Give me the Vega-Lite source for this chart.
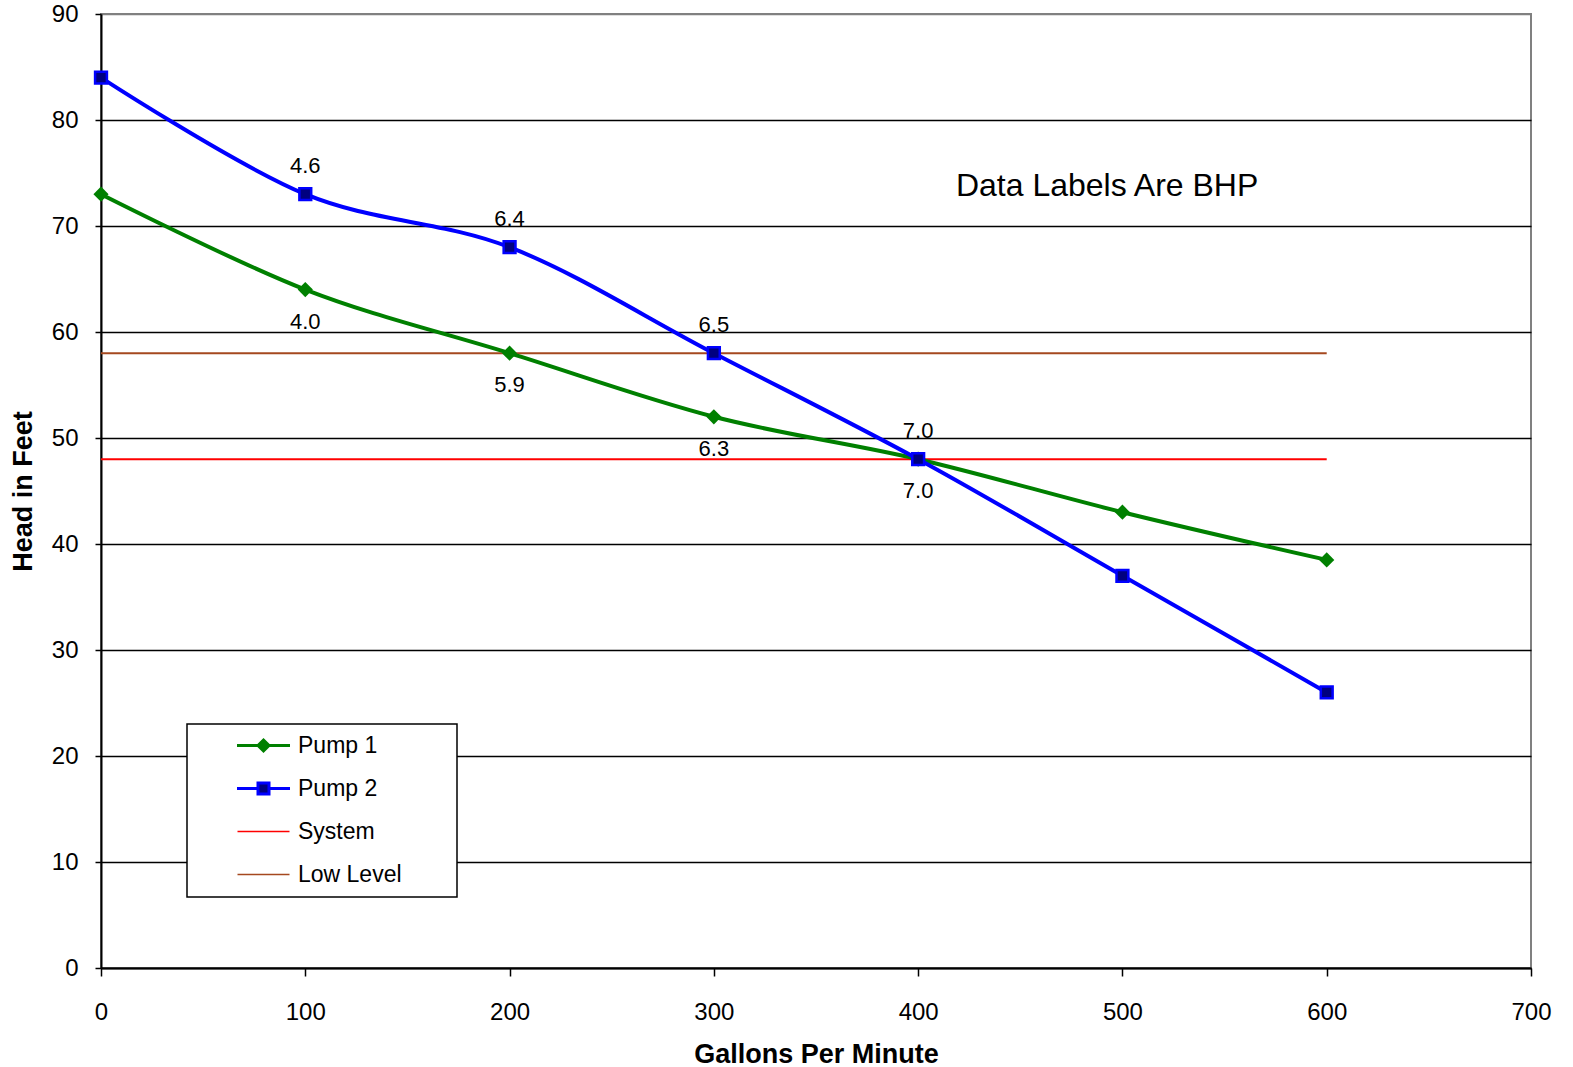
{
  "$schema": "https://vega.github.io/schema/vega-lite/v6.json",
  "width": 1430,
  "height": 954,
  "autosize": {"type": "none"},
  "padding": {"left": 101, "top": 14, "right": 42, "bottom": 99},
  "background": "white",
  "config": {
    "font": "Liberation Sans",
    "view": {"stroke": "#808080", "strokeWidth": 2},
    "axis": {"labelFont": "Liberation Sans", "titleFont": "Liberation Sans", "labelColor": "black", "titleColor": "black", "tickColor": "black", "domainColor": "black", "labelFlush": false}
  },
  "datasets": {
    "pumps": [
      {"series": "Pump 1", "gpm": 0, "head": 73},
      {"series": "Pump 1", "gpm": 100, "head": 64},
      {"series": "Pump 1", "gpm": 200, "head": 58},
      {"series": "Pump 1", "gpm": 300, "head": 52},
      {"series": "Pump 1", "gpm": 400, "head": 48},
      {"series": "Pump 1", "gpm": 500, "head": 43},
      {"series": "Pump 1", "gpm": 600, "head": 38.5},
      {"series": "Pump 2", "gpm": 0, "head": 84},
      {"series": "Pump 2", "gpm": 100, "head": 73},
      {"series": "Pump 2", "gpm": 200, "head": 68},
      {"series": "Pump 2", "gpm": 300, "head": 58},
      {"series": "Pump 2", "gpm": 400, "head": 48},
      {"series": "Pump 2", "gpm": 500, "head": 37},
      {"series": "Pump 2", "gpm": 600, "head": 26}
    ],
    "levels": [
      {"series": "System", "gpm": 0, "head": 48},
      {"series": "System", "gpm": 600, "head": 48},
      {"series": "Low Level", "gpm": 0, "head": 58},
      {"series": "Low Level", "gpm": 600, "head": 58}
    ],
    "bhp": [
      {"series": "Pump 1", "gpm": 100, "head": 64, "bhp": "4.0"},
      {"series": "Pump 1", "gpm": 200, "head": 58, "bhp": "5.9"},
      {"series": "Pump 1", "gpm": 300, "head": 52, "bhp": "6.3"},
      {"series": "Pump 1", "gpm": 400, "head": 48, "bhp": "7.0"},
      {"series": "Pump 2", "gpm": 100, "head": 73, "bhp": "4.6"},
      {"series": "Pump 2", "gpm": 200, "head": 68, "bhp": "6.4"},
      {"series": "Pump 2", "gpm": 300, "head": 58, "bhp": "6.5"},
      {"series": "Pump 2", "gpm": 400, "head": 48, "bhp": "7.0"}
    ],
    "note": [
      {"gpm": 418.5, "head": 73.8, "text": "Data Labels Are BHP"}
    ]
  },
  "encoding": {
    "x": {
      "field": "gpm", "type": "quantitative",
      "scale": {"domain": [0, 700], "nice": false, "zero": false},
      "axis": {
        "title": "Gallons Per Minute",
        "values": [0, 100, 200, 300, 400, 500, 600, 700],
        "grid": false,
        "tickSize": 8, "tickWidth": 1.5, "domainWidth": 2,
        "labelFontSize": 24, "labelPadding": 24,
        "titleFontSize": 27, "titleFontWeight": "bold", "titlePadding": 17
      }
    },
    "y": {
      "field": "head", "type": "quantitative",
      "scale": {"domain": [0, 90], "nice": false},
      "axis": {
        "title": "Head in Feet",
        "values": [0, 10, 20, 30, 40, 50, 60, 70, 80, 90],
        "grid": true,
        "gridColor": {"condition": {"test": "datum.value === 90", "value": "#808080"}, "value": "black"},
        "gridWidth": 1.5,
        "tickSize": 6, "tickWidth": 1.5, "domainWidth": 2,
        "labelFontSize": 24, "labelPadding": 17,
        "titleFontSize": 27, "titleFontWeight": "bold", "titlePadding": 14
      }
    }
  },
  "layer": [
    {
      "data": {"name": "levels"},
      "mark": {"type": "line", "strokeWidth": 2},
      "encoding": {
        "detail": {"field": "series"},
        "color": {
          "field": "series", "type": "nominal",
          "scale": {"domain": ["Pump 1", "Pump 2", "System", "Low Level"], "range": ["#008000", "#0000FF", "#FF0000", "#A5481F"]}
        }
      }
    },
    {
      "data": {"name": "pumps"},
      "mark": {"type": "line", "strokeWidth": 4, "interpolate": "cardinal"},
      "encoding": {
        "color": {
          "field": "series", "type": "nominal",
          "scale": {"domain": ["Pump 1", "Pump 2", "System", "Low Level"], "range": ["#008000", "#0000FF", "#FF0000", "#A5481F"]},
          "legend": {
            "orient": "none", "legendX": 86, "legendY": 710,
            "title": null, "direction": "vertical",
            "padding": 10, "strokeColor": "black", "fillColor": "white",
            "labelFontSize": 23, "labelColor": "black", "labelFont": "Liberation Sans",
            "symbolSize": 400, "symbolStrokeWidth": 3,
            "symbolOffset": 55, "labelOffset": 23, "rowPadding": 19,
            "encode": {
              "legend": {"update": {"strokeWidth": {"value": 1.5}}},
              "symbols": {"update": {
                "shape": {"signal": "datum.value === 'Pump 1' ? 'M-2.65,0H2.65M0,-0.55L0.55,0L0,0.55L-0.55,0ZM17.7,0' : datum.value === 'Pump 2' ? 'M-2.65,0H-0.55M0.55,0H2.65M-0.55,-0.55H0.55V0.55H-0.55ZM17.7,0' : 'M-2.6,0H2.6M17.7,0'"},
                "fill": {"signal": "datum.value === 'Pump 1' ? '#008000' : datum.value === 'Pump 2' ? '#000080' : 'transparent'"},
                "strokeWidth": {"signal": "datum.value === 'Pump 1' || datum.value === 'Pump 2' ? 3 : 1.5"}
              }}
            }
          }
        }
      }
    },
    {
      "data": {"name": "pumps"},
      "transform": [{"filter": "datum.series === 'Pump 1'"}],
      "mark": {"type": "point", "shape": "diamond", "size": 230, "filled": true, "color": "#008000", "opacity": 1}
    },
    {
      "data": {"name": "pumps"},
      "transform": [{"filter": "datum.series === 'Pump 2'"}],
      "mark": {"type": "point", "shape": "square", "size": 140, "filled": true, "fill": "#000080", "stroke": "#0000FF", "strokeWidth": 2.5, "opacity": 1}
    },
    {
      "data": {"name": "bhp"},
      "transform": [{"filter": "datum.series === 'Pump 2'"}],
      "mark": {"type": "text", "dy": -28, "fontSize": 22, "font": "Liberation Sans", "color": "black", "baseline": "middle"},
      "encoding": {"text": {"field": "bhp"}}
    },
    {
      "data": {"name": "bhp"},
      "transform": [{"filter": "datum.series === 'Pump 1'"}],
      "mark": {"type": "text", "dy": 32, "fontSize": 22, "font": "Liberation Sans", "color": "black", "baseline": "middle"},
      "encoding": {"text": {"field": "bhp"}}
    },
    {
      "data": {"name": "note"},
      "mark": {"type": "text", "fontSize": 32, "font": "Liberation Sans", "color": "black", "align": "left", "baseline": "middle"},
      "encoding": {"text": {"field": "text"}}
    }
  ]
}
